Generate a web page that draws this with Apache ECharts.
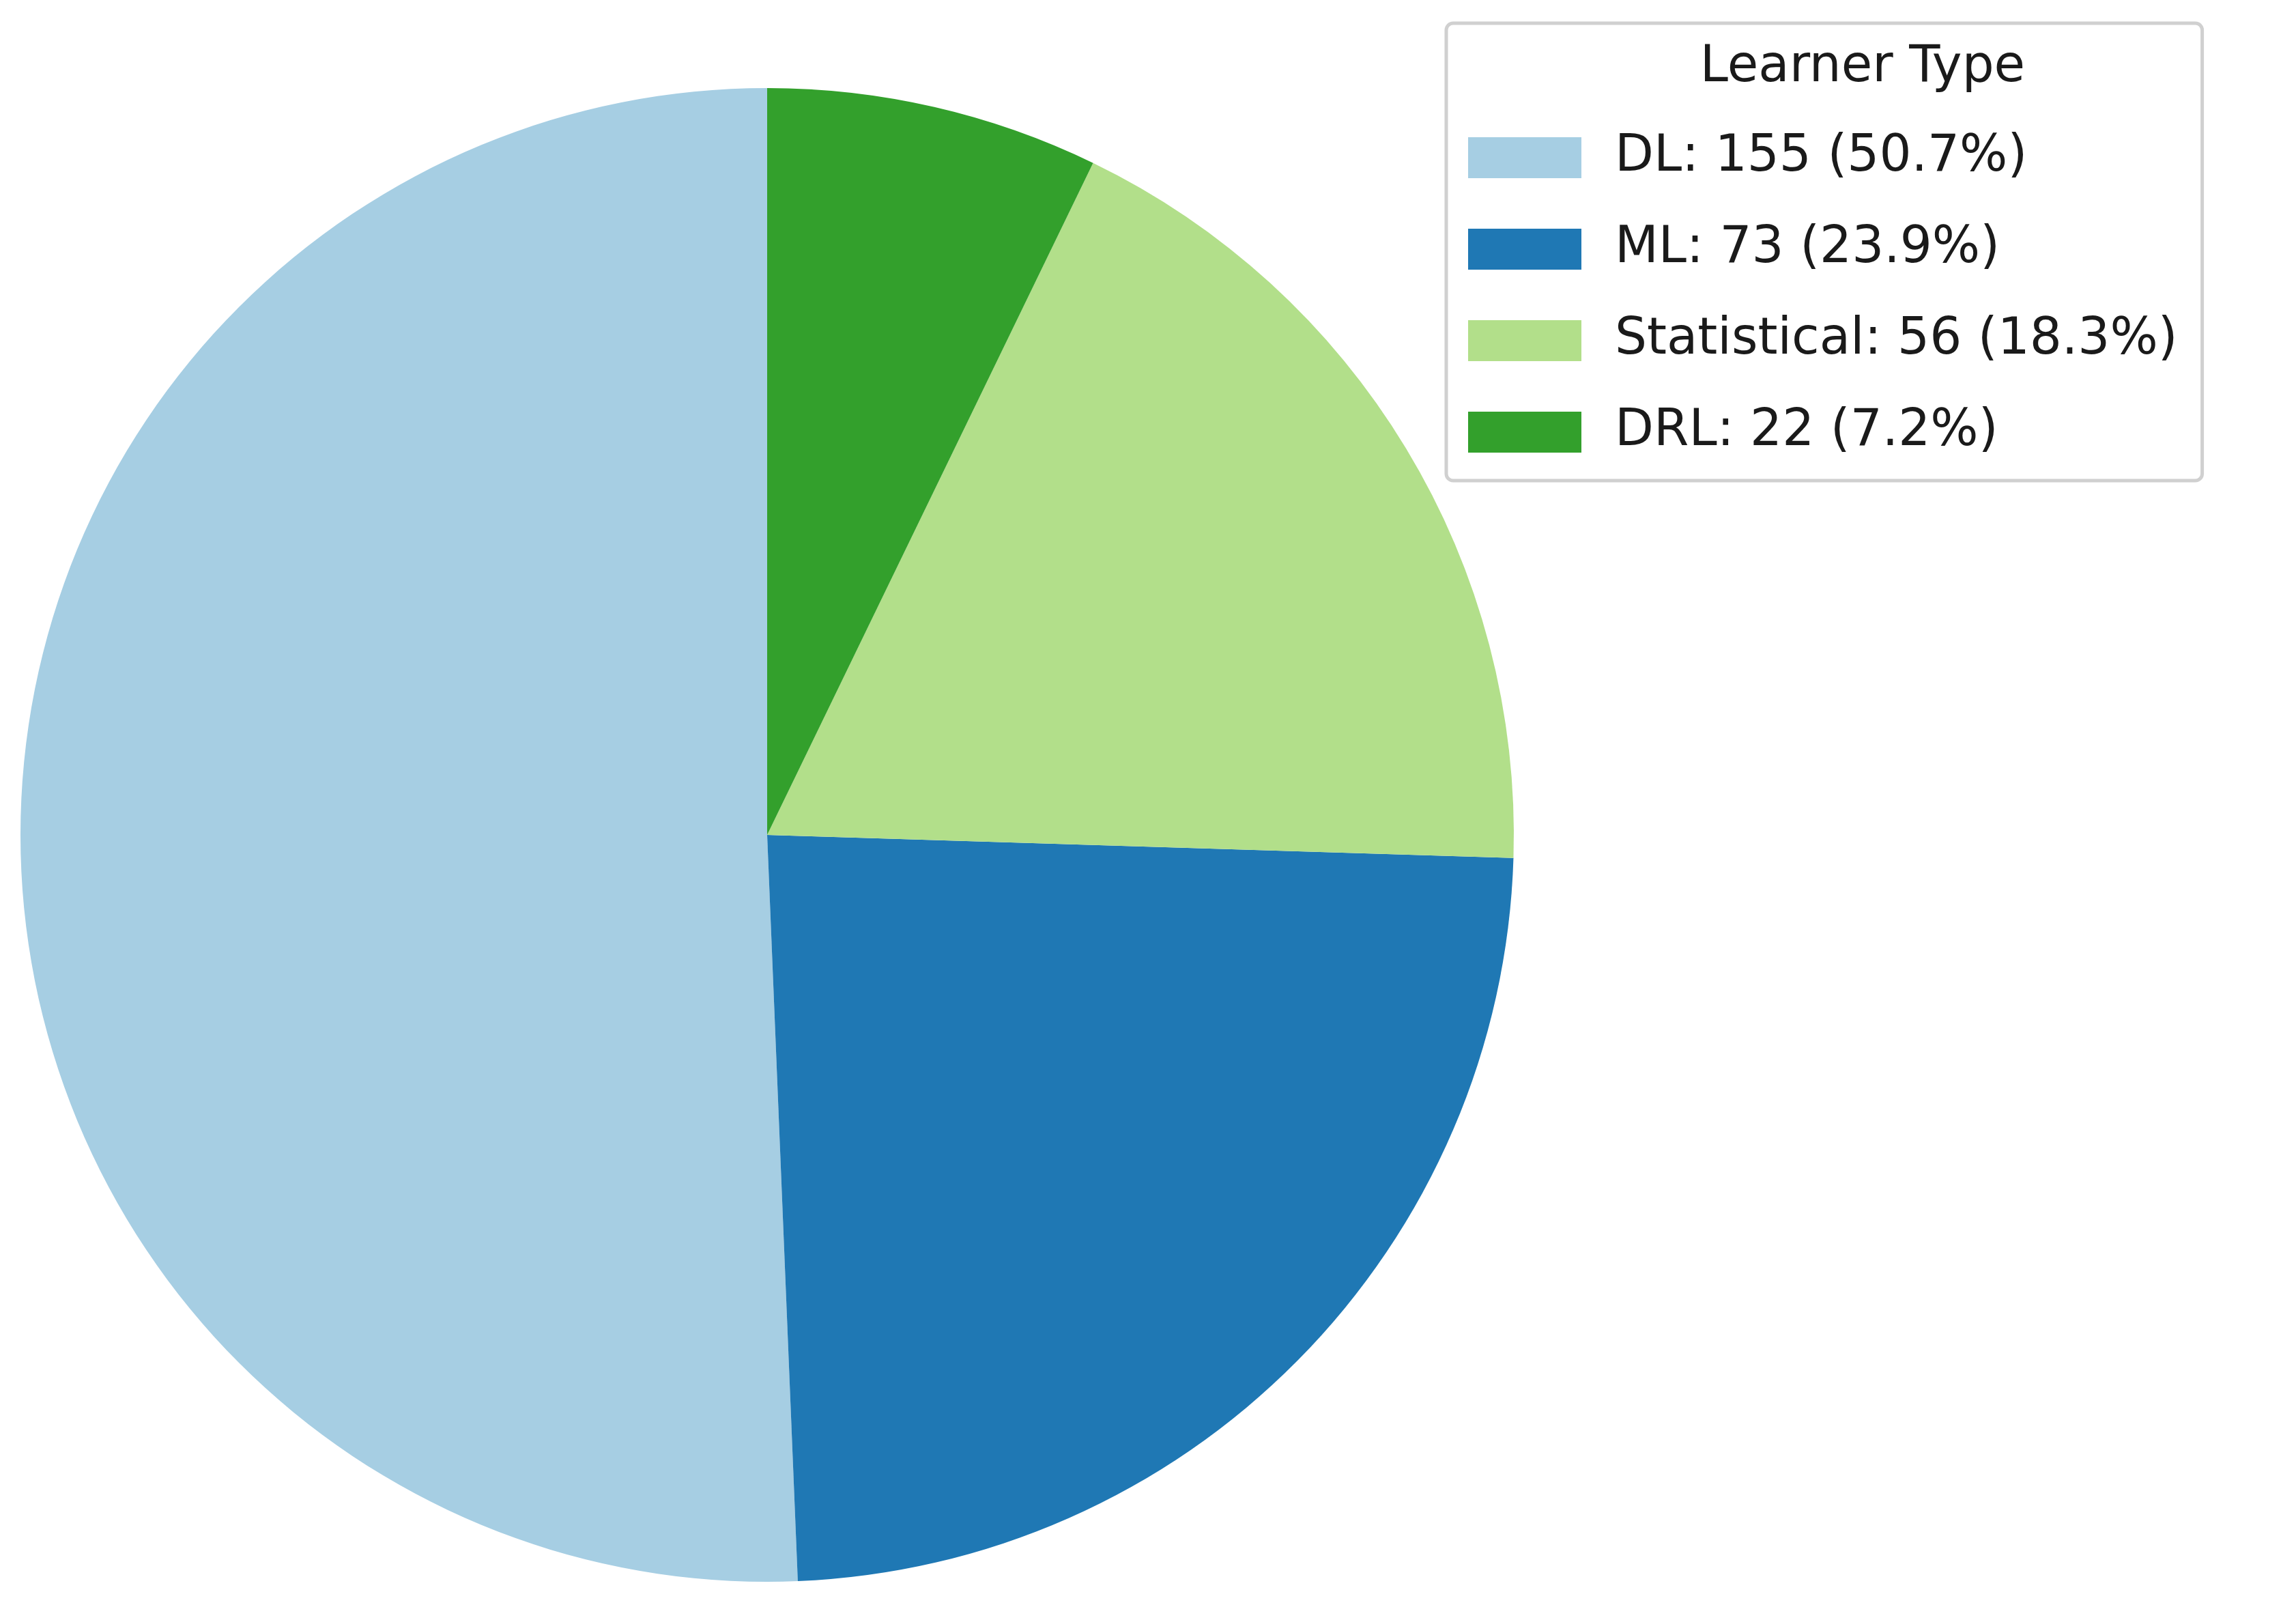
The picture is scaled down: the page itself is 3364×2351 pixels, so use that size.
<!DOCTYPE html>
<html>
<head>
<meta charset="utf-8">
<script src="https://cdn.jsdelivr.net/npm/echarts@6/dist/echarts.min.js"></script>
<style>html,body{margin:0;background:#fff}#chart{width:3364px;height:2351px}</style>
</head>
<body>
<div id="chart"></div>
<script>
const categories = ['DL', 'ML', 'Statistical', 'DRL'];
const counts = [155, 73, 56, 22];
const colors = ['#a6cee3', '#1f78b4', '#b2df8a', '#33a02c'];

const total = counts.reduce((a, b) => a + b, 0);
const chart = echarts.init(document.getElementById('chart'));
const font = 'DejaVu Sans';

chart.setOption({
    backgroundColor: '#fff',
    animation: false,
    title: {
        text: 'Learner Type',
        left: 2724, top: 58, textAlign: 'center',
        textStyle: { fontFamily: font, fontSize: 74, fontWeight: 'normal', color: '#1a1a1a' },
    },
    legend: {
        orient: 'vertical',
        left: 2119, top: 34,
        padding: [160, 36, 34, 32],
        itemWidth: 166, itemHeight: 60, itemGap: 60,
        borderColor: '#d0d0d0', borderWidth: 5, borderRadius: 10,
        icon: 'rect',
        textStyle: { fontFamily: font, fontSize: 74, color: '#1a1a1a', padding: [0, 0, 0, 44] },
        formatter: name => {
            const v = counts[categories.indexOf(name)];
            return `${name}: ${v} (${(v / total * 100).toFixed(1)}%)`;
        },
        data: categories,
    },
    series: [{
        type: 'pie',
        center: [1124, 1223],
        radius: 1094,
        startAngle: 90,
        clockwise: false,
        label: { show: false },
        labelLine: { show: false },
        emphasis: { disabled: true },
        itemStyle: { borderWidth: 0 },
        data: categories.map((c, i) => ({ name: c, value: counts[i], itemStyle: { color: colors[i] } })),
    }],
});
</script>
</body>
</html>
